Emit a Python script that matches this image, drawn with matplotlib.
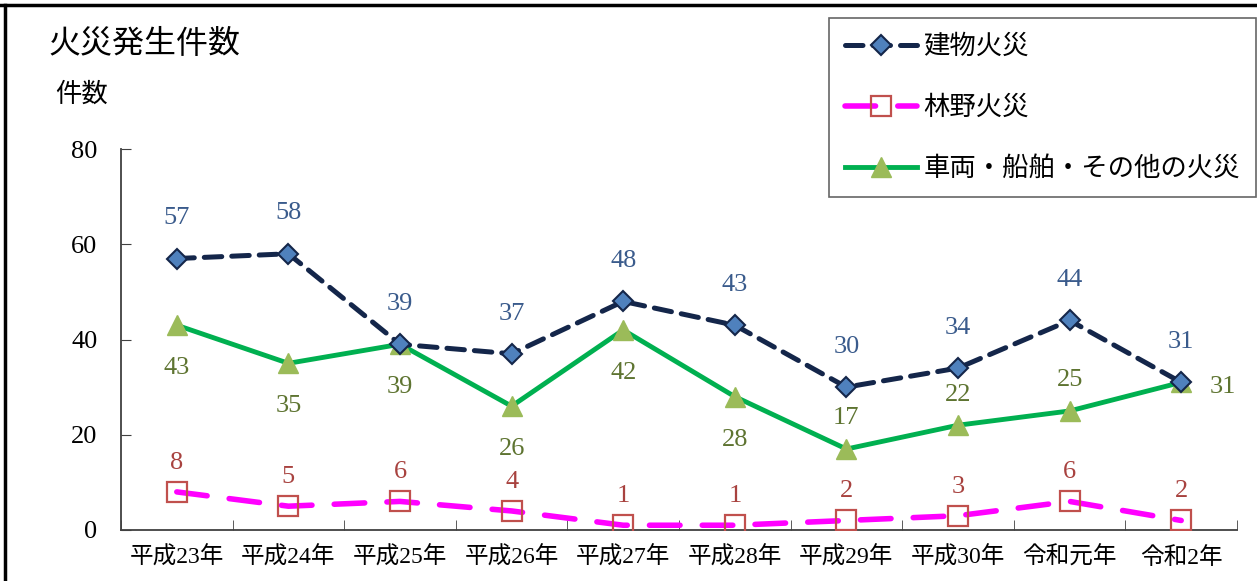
import matplotlib
matplotlib.use("Agg")
import matplotlib.pyplot as plt
from matplotlib.lines import Line2D

plt.rcParams['font.family'] = ['Liberation Serif', 'Noto Sans CJK JP', 'DejaVu Sans']

categories = ["平成23年", "平成24年", "平成25年", "平成26年", "平成27年",
              "平成28年", "平成29年", "平成30年", "令和元年", "令和2年"]
building = [57, 58, 39, 37, 48, 43, 30, 34, 44, 31]
forest = [8, 5, 6, 4, 1, 1, 2, 3, 6, 2]
vehicle = [43, 35, 39, 26, 42, 28, 17, 22, 25, 31]
series_names = ["建物火災", "林野火災", "車両・船舶・その他の火災"]
vehicle_label_side = ["below", "below", "below", "below", "below",
                      "below", "above", "above", "above", "right"]

W, H = 1257, 581
fig = plt.figure(figsize=(W / 100, H / 100), dpi=100)
ax = fig.add_axes([121 / W, 1 - 530 / H, (1237 - 121) / W, (530 - 149) / H])

x = list(range(len(categories)))

lb, = ax.plot(x, building, color="#14264A", lw=3.6, dashes=(3.5, 2.0),
              marker="D", markersize=10, markerfacecolor="#4F81BD",
              markeredgecolor="#14264A", markeredgewidth=1.5, zorder=4,
              dash_capstyle="round")
lf, = ax.plot(x, forest, color="#FF00FF", lw=4.0, dashes=(5.5, 4.0),
              marker="s", markersize=14, markerfacecolor="none",
              markeredgecolor="#C0504D", markeredgewidth=1.6, zorder=3,
              dash_capstyle="round")
lv, = ax.plot(x, vehicle, color="#00B050", lw=3.5,
              marker="^", markersize=15, markerfacecolor="#9BBB59",
              markeredgecolor="#9BBB59", zorder=3)

fs = 19
for xi, v in zip(x, building):
    ax.annotate(str(v), (xi, v), xytext=(0, 29), textcoords="offset points",
                ha="center", va="center", fontsize=fs, color="#3A5B8C")
for xi, v in zip(x, forest):
    ax.annotate(str(v), (xi, v), xytext=(0, 21), textcoords="offset points",
                ha="center", va="center", fontsize=fs, color="#A8423F")
for xi, v, side in zip(x, vehicle, vehicle_label_side):
    off = {"below": (0, -31), "above": (0, 22), "right": (30, -3)}[side]
    ax.annotate(str(v), (xi, v), xytext=off, textcoords="offset points",
                ha="center", va="center", fontsize=fs, color="#5E7431")

ax.set_xlim(-0.5, len(categories) - 0.5)
ax.set_ylim(0, 80)
ax.set_yticks([0, 20, 40, 60, 80])
ax.set_xticks(x)
ax.set_xticklabels(categories, fontsize=17)
ax.set_xticks([i - 0.5 for i in range(len(categories) + 1)], minor=True)
ax.tick_params(axis="x", which="major", length=0, pad=12)
ax.tick_params(axis="x", which="minor", direction="in", length=7, color="#404040")
ax.tick_params(axis="y", direction="in", length=7, labelsize=fs, pad=17, color="#404040")
for s in ["top", "right"]:
    ax.spines[s].set_visible(False)
for s in ["left", "bottom"]:
    ax.spines[s].set_color("#404040")
    ax.spines[s].set_linewidth(1.3)

fig.text(48 / W, 1 - 45 / H, "火災発生件数", fontsize=23, va="center", ha="left")
fig.text(55 / W, 1 - 95 / H, "件数", fontsize=19, va="center", ha="left")

leg = fig.legend([lb, lf, lv], series_names, loc="upper left",
                 bbox_to_anchor=(829 / W, 1 - 18 / H), bbox_transform=fig.transFigure,
                 fontsize=fs, frameon=True, fancybox=False, edgecolor="#404040",
                 handlelength=2.7, labelspacing=1.38, borderpad=0.62,
                 handletextpad=0.25, borderaxespad=0)
leg.get_frame().set_linewidth(1.2)

fig.add_artist(Line2D([0, 1], [1 - 5 / H, 1 - 5 / H], transform=fig.transFigure,
                      color="black", lw=2.5))
fig.add_artist(Line2D([5 / W, 5 / W], [0, 1 - 5 / H], transform=fig.transFigure,
                      color="black", lw=2.5))

fig.savefig("out.png", dpi=100)
